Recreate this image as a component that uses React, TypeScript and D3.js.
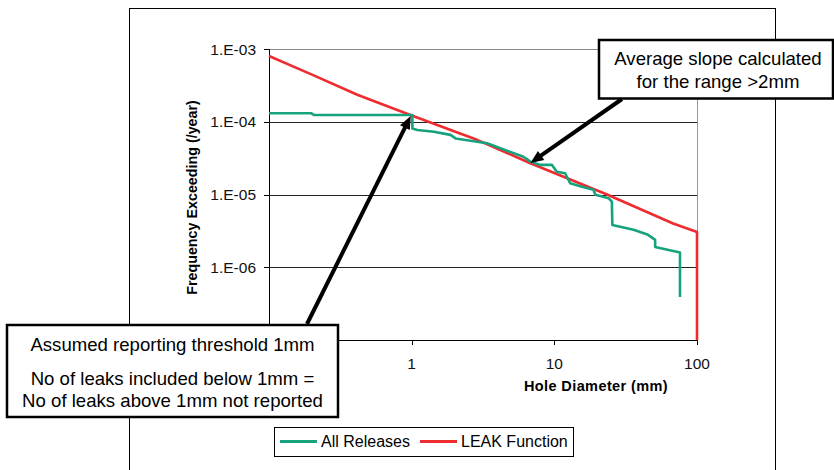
import React from 'react';
import * as d3 from 'd3';

const xTickValues = [0.1, 1, 10, 100];
const xTickLabels = ['', '1', '10', '100'];
const yTickValues = [1e-7, 1e-6, 1e-5, 1e-4, 1e-3];
const yTickLabels = ['', '1.E-06', '1.E-05', '1.E-04', '1.E-03'];

const seriesNames = ['All Releases', 'LEAK Function'];
const seriesColors = ['#17a27e', '#ee2b2f'];

// All Releases (hole diameter mm, frequency exceeding /year)
const allReleasesX = [0.1, 0.197, 0.206, 1.011, 1.011, 1.096, 1.43, 1.87, 2.03, 3.38, 6.07, 6.8, 7.98, 9.63, 10.4, 11.9, 12.9, 15.6, 18.8, 19.4, 24.0, 25.3, 25.5, 35.9, 45.4, 50.9, 50.9, 76, 76];
const allReleasesY = [1.31e-4, 1.31e-4, 1.24e-4, 1.24e-4, 8.1e-5, 7.7e-5, 7.3e-5, 6.6e-5, 5.9e-5, 5.07e-5, 3.3e-5, 2.83e-5, 2.55e-5, 2.55e-5, 2.06e-5, 1.96e-5, 1.43e-5, 1.28e-5, 1.16e-5, 9.9e-6, 8.9e-6, 8.0e-6, 3.8e-6, 3.27e-6, 2.79e-6, 2.38e-6, 1.9e-6, 1.59e-6, 3.9e-7];

// LEAK Function
const leakX = [0.1, 0.2, 0.42, 1, 2.9, 6.8, 23.4, 68, 100, 100];
const leakY = [8.0e-4, 4.45e-4, 2.33e-4, 1.22e-4, 5.6e-5, 2.69e-5, 1.0e-5, 4.0e-6, 3.05e-6, 1e-7];

const annotation1 = ['Assumed reporting threshold 1mm', 'No of leaks included below 1mm =', 'No of leaks above 1mm not reported'];
const annotation2 = ['Average slope calculated', 'for the range >2mm'];
const arrow1Tip = [0.985, 1.2e-4];
const arrow2Tip = [6.8, 2.72e-5];

const FONT = 'Arial, "Liberation Sans", sans-serif';

function Arrow({ x1, y1, x2, y2 }: { x1: number; y1: number; x2: number; y2: number }) {
  const ang = Math.atan2(y2 - y1, x2 - x1);
  const L = 13, W = 5.5;
  const bx = x2 - L * Math.cos(ang), by = y2 - L * Math.sin(ang);
  const px = -Math.sin(ang), py = Math.cos(ang);
  const pts = `${x2},${y2} ${bx + W * px},${by + W * py} ${bx - W * px},${by - W * py}`;
  return (
    <g>
      <line x1={x1} y1={y1} x2={bx + 2 * Math.cos(ang)} y2={by + 2 * Math.sin(ang)} stroke="#000" strokeWidth={4} />
      <polygon points={pts} fill="#000" />
    </g>
  );
}

export default function App() {
  const x = d3.scaleLog().domain([0.1, 100]).range([269, 697]);
  const y = d3.scaleLog().domain([1e-7, 1e-3]).range([340, 49]);
  const line = d3.line<[number, number]>().x(d => x(d[0])).y(d => y(d[1]));
  const green = line(allReleasesX.map((v, i) => [v, allReleasesY[i]] as [number, number])) || '';
  const red = line(leakX.map((v, i) => [v, leakY[i]] as [number, number])) || '';
  const [x0, x1] = x.range();
  const [yb, yt] = y.range();

  return (
    <svg width={834} height={470} style={{ position: 'absolute', left: 0, top: 0, background: '#fff' }} fontFamily={FONT}>
      <rect x={0} y={0} width={834} height={470} fill="#fff" />
      {/* outer chart frame */}
      <rect x={129.5} y={8.5} width={646} height={480} fill="none" stroke="#000" strokeWidth={1} />
      {/* gridlines */}
      {yTickValues.slice(1, 4).map((v, i) => (
        <line key={i} x1={x0} x2={x1} y1={Math.round(y(v)) + 0.5} y2={Math.round(y(v)) + 0.5} stroke="#222" strokeWidth={1} />
      ))}
      <line x1={x0} x2={x1} y1={yt + 0.5} y2={yt + 0.5} stroke="#888" strokeWidth={1} />
      <line x1={x1 + 0.5} x2={x1 + 0.5} y1={yt} y2={yb} stroke="#999" strokeWidth={1} />
      {/* axes */}
      <line x1={x0 + 0.5} x2={x0 + 0.5} y1={yt} y2={yb} stroke="#000" strokeWidth={1} />
      <line x1={x0} x2={x1} y1={yb + 0.5} y2={yb + 0.5} stroke="#000" strokeWidth={1} />
      {yTickValues.map((v, i) => (
        <g key={i}>
          <line x1={x0 - 5} x2={x0} y1={Math.round(y(v)) + 0.5} y2={Math.round(y(v)) + 0.5} stroke="#000" />
          {yTickLabels[i] && <text x={x0 - 13} y={y(v)} dy="0.36em" textAnchor="end" fontSize={15.5} fill="#111">{yTickLabels[i]}</text>}
        </g>
      ))}
      {xTickValues.map((v, i) => (
        <g key={i}>
          <line x1={Math.round(x(v)) + 0.5} x2={Math.round(x(v)) + 0.5} y1={yb} y2={yb + 5} stroke="#000" />
          {xTickLabels[i] && <text x={x(v)} y={yb + 29} textAnchor="middle" fontSize={15.5} fill="#111">{xTickLabels[i]}</text>}
        </g>
      ))}
      <text x={596} y={391} textAnchor="middle" fontSize={14.5} fontWeight="bold" letterSpacing={0.4}>Hole Diameter (mm)</text>
      <text transform="translate(197,197.5) rotate(-90)" textAnchor="middle" fontSize={14.3} fontWeight="bold">Frequency Exceeding (/year)</text>
      {/* data */}
      <path d={red} fill="none" stroke={seriesColors[1]} strokeWidth={2.6} strokeLinejoin="round" />
      <path d={green} fill="none" stroke={seriesColors[0]} strokeWidth={2.6} strokeLinejoin="round" />
      {/* legend */}
      <rect x={274.5} y={427.5} width={299} height={29} fill="#fff" stroke="#000" />
      <line x1={280} x2={317} y1={441.5} y2={441.5} stroke={seriesColors[0]} strokeWidth={3} />
      <text x={321} y={446.5} fontSize={16}>{seriesNames[0]}</text>
      <line x1={420} x2={457} y1={441.5} y2={441.5} stroke={seriesColors[1]} strokeWidth={3} />
      <text x={461} y={446.5} fontSize={16}>{seriesNames[1]}</text>
      {/* annotation boxes */}
      <rect x={7} y={325} width={331} height={92} fill="#fff" stroke="#000" strokeWidth={2.5} />
      <text x={172.5} y={351} textAnchor="middle" fontSize={18.6}>{annotation1[0]}</text>
      <text x={172.5} y={385} textAnchor="middle" fontSize={18.6}>{annotation1[1]}</text>
      <text x={172.5} y={407} textAnchor="middle" fontSize={18.6}>{annotation1[2]}</text>
      <Arrow x1={307} y1={324} x2={x(arrow1Tip[0])} y2={y(arrow1Tip[1])} />
      <rect x={599} y={40} width={234} height={58.5} fill="#fff" stroke="#000" strokeWidth={2.5} />
      <text x={718} y={65} textAnchor="middle" fontSize={18.6}>{annotation2[0]}</text>
      <text x={718} y={87.5} textAnchor="middle" fontSize={18.6}>{annotation2[1]}</text>
      <Arrow x1={622} y1={99} x2={x(arrow2Tip[0])} y2={y(arrow2Tip[1])} />
    </svg>
  );
}
